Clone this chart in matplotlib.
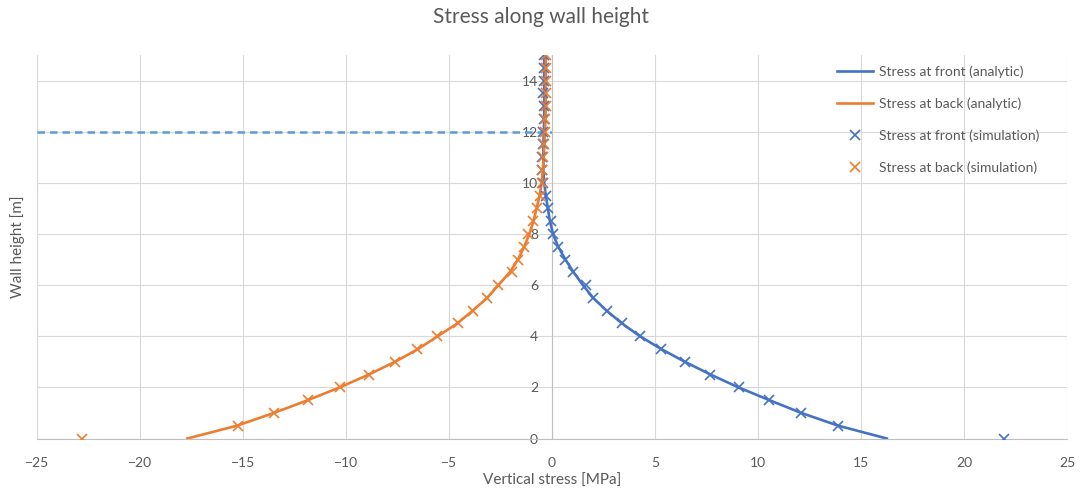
import numpy as np
import matplotlib.pyplot as plt

# wall height [m], one point every 0.5 m
height = np.arange(0, 15.01, 0.5)

front_analytic = [16.25, 13.9, 12.1, 10.55, 9.05, 7.7, 6.45, 5.3, 4.27, 3.4, 2.65,
                  2.0, 1.5, 1.05, 0.65, 0.3, 0.05, -0.1, -0.2, -0.3, -0.38, -0.42,
                  -0.42, -0.42, -0.4, -0.38, -0.38, -0.38, -0.38, -0.38, -0.38]
back_analytic = [-17.7, -15.3, -13.5, -11.85, -10.3, -8.9, -7.62, -6.5, -5.55, -4.6,
                 -3.85, -3.15, -2.6, -2.05, -1.65, -1.35, -1.1, -0.9, -0.75, -0.6,
                 -0.5, -0.45, -0.4, -0.37, -0.34, -0.32, -0.3, -0.3, -0.3, -0.3, -0.3]
front_sim = [21.95, 13.9, 12.1, 10.52, 9.06, 7.65, 6.44, 5.27, 4.26, 3.4, 2.67,
             2.0, 1.65, 1.0, 0.63, 0.31, 0.06, -0.05, -0.18, -0.31, -0.42, -0.47,
             -0.47, -0.42, -0.42, -0.38, -0.38, -0.42, -0.38, -0.38, -0.38]
back_sim = [-22.8, -15.26, -13.5, -11.83, -10.29, -8.88, -7.62, -6.54, -5.57, -4.55,
            -3.82, -3.17, -2.62, -1.93, -1.63, -1.35, -1.15, -0.9, -0.74, -0.58,
            -0.5, -0.47, -0.42, -0.37, -0.33, -0.32, -0.3, -0.3, -0.3, -0.3, -0.3]

ref_line_x = [-25, 0]
ref_line_y = [12, 12]

blue = '#4472C4'
orange = '#ED7D31'
grey = '#595959'

plt.rcParams['font.family'] = ['Lato', 'DejaVu Sans']

fig = plt.figure(figsize=(10.82, 4.92), dpi=100)
ax = fig.add_axes([37 / 1082, 1 - 438.5 / 492, 1030 / 1082, 383.5 / 492])

ax.plot(ref_line_x, ref_line_y, color='#5B9BD5', lw=1.8, ls=(0, (3, 2)), zorder=2)
ax.plot(front_analytic, height, color=blue, lw=1.9, label='Stress at front (analytic)', zorder=3)
ax.plot(back_analytic, height, color=orange, lw=1.9, label='Stress at back (analytic)', zorder=3)
ax.plot(front_sim, height, ls='none', marker='x', ms=7, mew=1.2, color=blue,
        label='Stress at front (simulation)', zorder=4)
ax.plot(back_sim, height, ls='none', marker='x', ms=7, mew=1.2, color=orange,
        label='Stress at back (simulation)', zorder=4)

ax.set_xlim(-25, 25)
ax.set_ylim(0, 15)
ax.set_xticks(np.arange(-25, 26, 5))
ax.set_yticks(np.arange(0, 15, 2))
ax.grid(True, color='#D9D9D9', lw=0.8, zorder=0)
ax.set_axisbelow(True)

for s in ['top', 'right']:
    ax.spines[s].set_visible(False)
ax.spines['left'].set_position(('data', 0))
ax.spines['left'].set_color('#BFBFBF')
ax.spines['bottom'].set_color('#BFBFBF')
ax.tick_params(length=0, labelsize=10, labelcolor=grey)
ax.tick_params(axis='x', pad=13)
ax.tick_params(axis='y', pad=10)

fig.text(0.5, 1 - 17 / 492, 'Stress along wall height', ha='center', va='center',
         fontsize=15, color=grey)
fig.text(552 / 1082, 1 - 481 / 492, 'Vertical stress [MPa]', ha='center', va='center',
         fontsize=11, color=grey)
fig.text(18 / 1082, 1 - 247 / 492, 'Wall height [m]', ha='center', va='center',
         rotation=90, fontsize=11, color=grey)

leg = ax.legend(loc='upper left', bbox_to_anchor=(837 / 1082, 1 - 65 / 492),
                bbox_transform=fig.transFigure, frameon=False, fontsize=10,
                borderpad=0, borderaxespad=0, handlelength=2.6, handletextpad=0.4,
                labelspacing=1.4)
for t in leg.get_texts():
    t.set_color(grey)

fig.savefig('out.png', dpi=100)
